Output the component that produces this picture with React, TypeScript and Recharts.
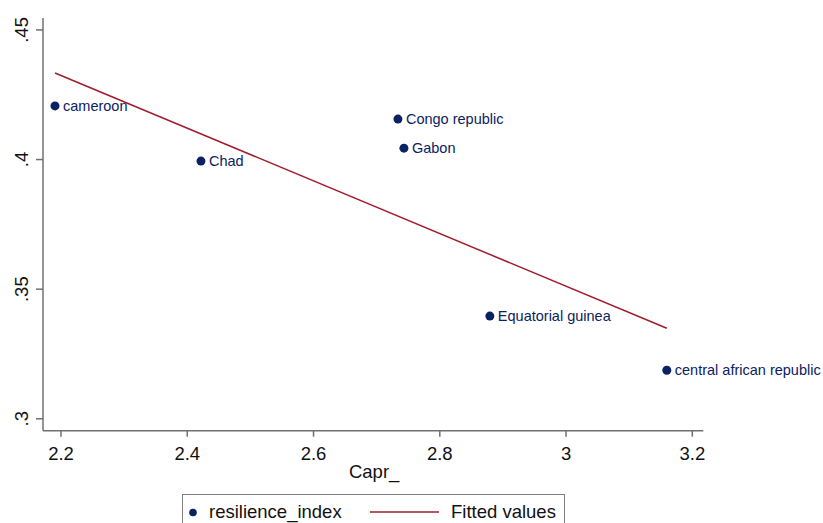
import React from 'react';
import { ScatterChart, Scatter, XAxis, YAxis, LabelList } from 'recharts';

const countries = ['cameroon', 'Chad', 'Congo republic', 'Gabon', 'Equatorial guinea', 'central african republic'];
const caprValues = [2.1905, 2.4217, 2.7337, 2.7432, 2.8793, 3.1596];
const resilienceValues = [0.4207, 0.3994, 0.4156, 0.4044, 0.3396, 0.3187];
const fittedX = [2.1905, 3.1596];
const fittedY = [0.4334, 0.3349];
const xTicks = [2.2, 2.4, 2.6, 2.8, 3, 3.2];
const yTicks = [0.3, 0.35, 0.4, 0.45];
const yTickLabels = ['.3', '.35', '.4', '.45'];

const points = countries.map((name, i) => ({ name, x: caprValues[i], y: resilienceValues[i] }));
const fitted = fittedX.map((x, i) => ({ x, y: fittedY[i] }));

const NAVY = '#0b2262';
const MAROON = '#a01c2c';
const AXIS = '#707070';
const FONT = 'Arial, "Liberation Sans", sans-serif';

const YTick = (props: any) => {
  const { y, payload } = props;
  const idx = yTicks.indexOf(payload.value);
  const label = idx >= 0 ? yTickLabels[idx] : String(payload.value);
  const bx = 28.5;
  return (
    <text x={bx} y={y} transform={`rotate(-90, ${bx}, ${y})`} textAnchor="middle" fontSize={18.5} fill="#111" fontFamily={FONT}>
      {label}
    </text>
  );
};

const Dot = (props: any) => {
  const { cx, cy } = props;
  return <circle cx={cx} cy={cy} r={4.5} fill={NAVY} />;
};

const PointLabel = (props: any) => {
  const { x, y, width, height, value } = props;
  const cx = x + (width || 0) / 2;
  const cy = y + (height || 0) / 2;
  return (
    <text x={cx + 8} y={cy + 5} fontSize={14.5} fill={NAVY} fontFamily={FONT}>
      {value}
    </text>
  );
};

const XTitle = (props: any) => {
  const vb = props.viewBox || {};
  return (
    <text x={vb.x + vb.width / 2 + 1} y={vb.y + 47} textAnchor="middle" fontSize={18.5} fill="#111" fontFamily={FONT}>
      Capr_
    </text>
  );
};

export default function App() {
  return (
    <div style={{ position: 'absolute', left: 0, top: 0, width: 823, height: 523, background: '#fff', overflow: 'hidden' }}>
      <ScatterChart width={823} height={523} margin={{ top: 18, right: 119.7, bottom: 0, left: 0 }}>
        <XAxis
          type="number"
          dataKey="x"
          domain={[2.1715, 3.2174]}
          ticks={xTicks}
          allowDataOverflow
          height={92.3}
          tickSize={6}
          tickMargin={10}
          stroke={AXIS}
          strokeWidth={1.5}
          tick={{ fontSize: 18.5, fill: '#111', fontFamily: FONT }}
          tickFormatter={(v: number) => String(v)}
          label={<XTitle />}
        />
        <YAxis
          type="number"
          dataKey="y"
          domain={[0.2954, 0.4546]}
          ticks={yTicks}
          allowDataOverflow
          width={43}
          tickSize={7}
          stroke={AXIS}
          strokeWidth={1.5}
          tick={<YTick />}
        />
        <Scatter data={fitted} line={{ stroke: MAROON, strokeWidth: 1.5 }} shape={() => <g />} isAnimationActive={false} legendType="none" />
        <Scatter data={points} shape={<Dot />} isAnimationActive={false}>
          <LabelList dataKey="name" content={<PointLabel />} />
        </Scatter>
      </ScatterChart>
      <div
        style={{
          position: 'absolute',
          left: 182,
          top: 494,
          width: 383,
          height: 60,
          border: '1px solid #808080',
          boxSizing: 'border-box',
          fontFamily: FONT,
          fontSize: 18.5,
          color: '#111',
        }}
      >
        <svg width={383} height={60} style={{ position: 'absolute', left: -1, top: -1 }}>
          <circle cx={11} cy={18.5} r={3.8} fill={NAVY} />
          <line x1={188} y1={18} x2={257} y2={18} stroke={MAROON} strokeWidth={1.5} />
        </svg>
        <span style={{ position: 'absolute', left: 26, top: 6, lineHeight: '22px', whiteSpace: 'nowrap' }}>resilience_index</span>
        <span style={{ position: 'absolute', left: 268, top: 6, lineHeight: '22px', whiteSpace: 'nowrap' }}>Fitted values</span>
      </div>
    </div>
  );
}
